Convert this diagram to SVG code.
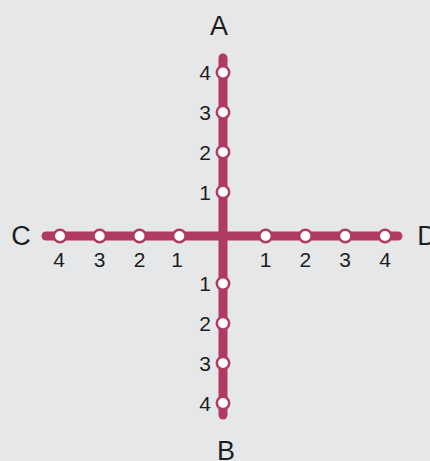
<svg xmlns="http://www.w3.org/2000/svg" width="430" height="461" viewBox="0 0 430 461">
<style>
.bg{fill:#e6e7e9}
.ln{stroke:#b03a64;stroke-width:9;stroke-linecap:round;fill:none}
.st{fill:#fff;stroke:#b03a64;stroke-width:2.5}
.big{font-family:"Liberation Sans",Arial,sans-serif;font-size:27px;fill:#1e1e1e;text-anchor:middle}
.num{font-family:"Liberation Sans",Arial,sans-serif;font-size:21px;fill:#1e1e1e}
.nv{text-anchor:end}
.nh{text-anchor:middle}
</style>
<rect class="bg" x="0" y="0" width="430" height="461"/>
<g id="connectors">
<line class="ln" x1="223" y1="58" x2="223" y2="415"/>
<line class="ln" x1="46" y1="236" x2="398" y2="236"/>
</g>
<g id="A"><text class="big" x="219" y="35">A</text></g>
<g id="B"><text class="big" x="226" y="460">B</text></g>
<g id="C"><text class="big" x="21" y="245">C</text></g>
<g id="D"><text class="big" x="427" y="245">D</text></g>
<g id="A-stops">
<circle class="st" cx="223" cy="72.5" r="6.2"/><text class="num nv" x="211" y="80">4</text>
<circle class="st" cx="223" cy="112.3" r="6.2"/><text class="num nv" x="211" y="120">3</text>
<circle class="st" cx="223" cy="152.1" r="6.2"/><text class="num nv" x="211" y="160">2</text>
<circle class="st" cx="223" cy="191.9" r="6.2"/><text class="num nv" x="211" y="199.5">1</text>
</g>
<g id="B-stops">
<circle class="st" cx="223" cy="283.5" r="6.2"/><text class="num nv" x="211" y="291">1</text>
<circle class="st" cx="223" cy="323.3" r="6.2"/><text class="num nv" x="211" y="331">2</text>
<circle class="st" cx="223" cy="363.1" r="6.2"/><text class="num nv" x="211" y="371">3</text>
<circle class="st" cx="223" cy="402.9" r="6.2"/><text class="num nv" x="211" y="411">4</text>
</g>
<g id="C-stops">
<circle class="st" cx="60" cy="236" r="6.2"/><text class="num nh" x="59" y="267">4</text>
<circle class="st" cx="99.7" cy="236" r="6.2"/><text class="num nh" x="99.7" y="267">3</text>
<circle class="st" cx="139.5" cy="236" r="6.2"/><text class="num nh" x="139.5" y="267">2</text>
<circle class="st" cx="179.3" cy="236" r="6.2"/><text class="num nh" x="177" y="267">1</text>
</g>
<g id="D-stops">
<circle class="st" cx="265.6" cy="236" r="6.2"/><text class="num nh" x="265.6" y="267">1</text>
<circle class="st" cx="305.4" cy="236" r="6.2"/><text class="num nh" x="305.4" y="267">2</text>
<circle class="st" cx="345.2" cy="236" r="6.2"/><text class="num nh" x="345.2" y="267">3</text>
<circle class="st" cx="385" cy="236" r="6.2"/><text class="num nh" x="385" y="267">4</text>
</g>
</svg>
